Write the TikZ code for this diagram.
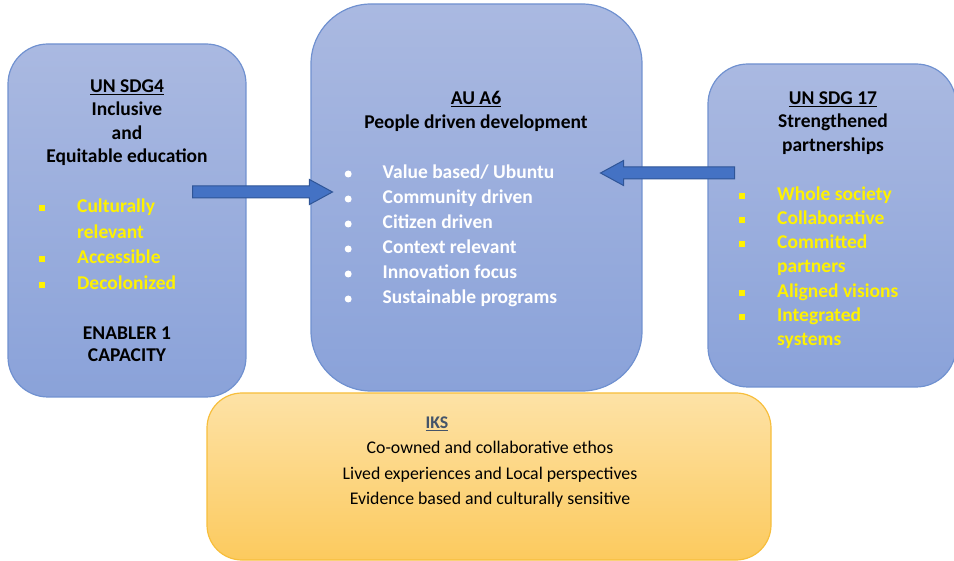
\documentclass[tikz,border=0pt]{standalone}
\usepackage{fontspec}
\setmainfont{Carlito}
\usetikzlibrary{shapes.arrows}
\definecolor{boxtop}{HTML}{AAB9E1}
\definecolor{boxbot}{HTML}{8AA2D9}
\definecolor{boxline}{HTML}{7091D0}
\definecolor{iksTop}{HTML}{FDE2A6}
\definecolor{iksBot}{HTML}{FCCA5E}
\definecolor{iksLine}{HTML}{F7BE3C}
\definecolor{arrFill}{HTML}{4472C4}
\definecolor{arrLine}{HTML}{2F5597}
\definecolor{iksHead}{HTML}{44546A}
\newcommand{\sqbul}{\makebox[38pt][l]{\raisebox{1.5pt}{\rule{6pt}{6pt}}}}
\newcommand{\rdbul}{\makebox[38pt][l]{\raisebox{1pt}{\tikz\fill (0,0) circle (3.5pt);}}}
\begin{document}
\begin{tikzpicture}[x=1pt, y=-1pt,
  bluebox/.style={draw=boxline, line width=1.2pt, top color=boxtop, bottom color=boxbot, inner sep=0},
  blockarrow/.style={single arrow, draw=arrLine, fill=arrFill, line width=1pt, inner sep=0,
    text height=5.5pt, text depth=5.5pt, single arrow head extend=6.5pt, single arrow tip angle=57},
  head/.style={anchor=base, align=center, inner sep=0, font=\bfseries\fontsize{19.5}{23.5}\selectfont},
  bultxt/.style={anchor=base west, align=left, inner sep=0, font=\bfseries\fontsize{19.5}{25}\selectfont}]
\useasboundingbox (0,0) rectangle (954,561);
% boxes
\node (iks)[draw=iksLine, line width=1.2pt, top color=iksTop, bottom color=iksBot, inner sep=0,
  rounded corners=35, minimum width=564, minimum height=167] at (489,476.5) {};
\node (sdg4)[bluebox, rounded corners=40, minimum width=238, minimum height=353] at (127,220.5) {};
\node (au6)[bluebox, rounded corners=60, minimum width=331, minimum height=387] at (476.5,197.5) {};
\node (sdg17)[bluebox, rounded corners=40, minimum width=248, minimum height=323] at (832,225.5) {};
% UN SDG4 (base = last line)
\node (sdg4head)[head] at (127,163) {\underline{UN SDG4}\\Inclusive\\and\\Equitable education};
\node (sdg4list)[bultxt, text=yellow, font=\bfseries\fontsize{19.5}{25.5}\selectfont] at (39,289.5)
  {\sqbul Culturally\\\hspace*{38pt}relevant\\\sqbul Accessible\\\sqbul Decolonized};
\node (enabler)[head, font=\bfseries\fontsize{19.5}{22}\selectfont] at (127,362) {ENABLER 1\\CAPACITY};
% AU A6
\node (au6head)[head] at (476,128.5) {\underline{AU A6}\\People driven development};
\node (au6list)[bultxt, text=white] at (344.5,303.5)
  {\rdbul Value based/ Ubuntu\\\rdbul Community driven\\\rdbul Citizen driven\\\rdbul Context relevant\\\rdbul Innovation focus\\\rdbul Sustainable programs};
% UN SDG 17
\node (sdg17head)[head] at (833,151.5) {\underline{UN SDG 17}\\Strengthened\\partnerships};
\node (sdg17list)[bultxt, text=yellow, font=\bfseries\fontsize{19.5}{24.2}\selectfont] at (739,345.5)
  {\sqbul Whole society\\\sqbul Collaborative\\\sqbul Committed\\\hspace*{38pt}partners\\\sqbul Aligned visions\\\sqbul Integrated\\\hspace*{38pt}systems};
% IKS
\node (ikshead)[anchor=base, inner sep=0, text=iksHead, font=\bfseries\fontsize{17.8}{20}\selectfont] at (437,429) {\underline{IKS}};
\node (ikstxt)[anchor=base, align=center, inner sep=0, font=\fontsize{17.8}{25.5}\selectfont] at (490,504.5)
  {Co-owned and collaborative ethos\\Lived experiences and Local perspectives\\Evidence based and culturally sensitive};
% arrows
\node (arrsdg4)[blockarrow, anchor=tail, minimum height=140] at (192,192) {};
\node (arrsdg17)[blockarrow, anchor=tail, minimum height=134, shape border rotate=180] at (735,173) {};
\end{tikzpicture}
\end{document}
